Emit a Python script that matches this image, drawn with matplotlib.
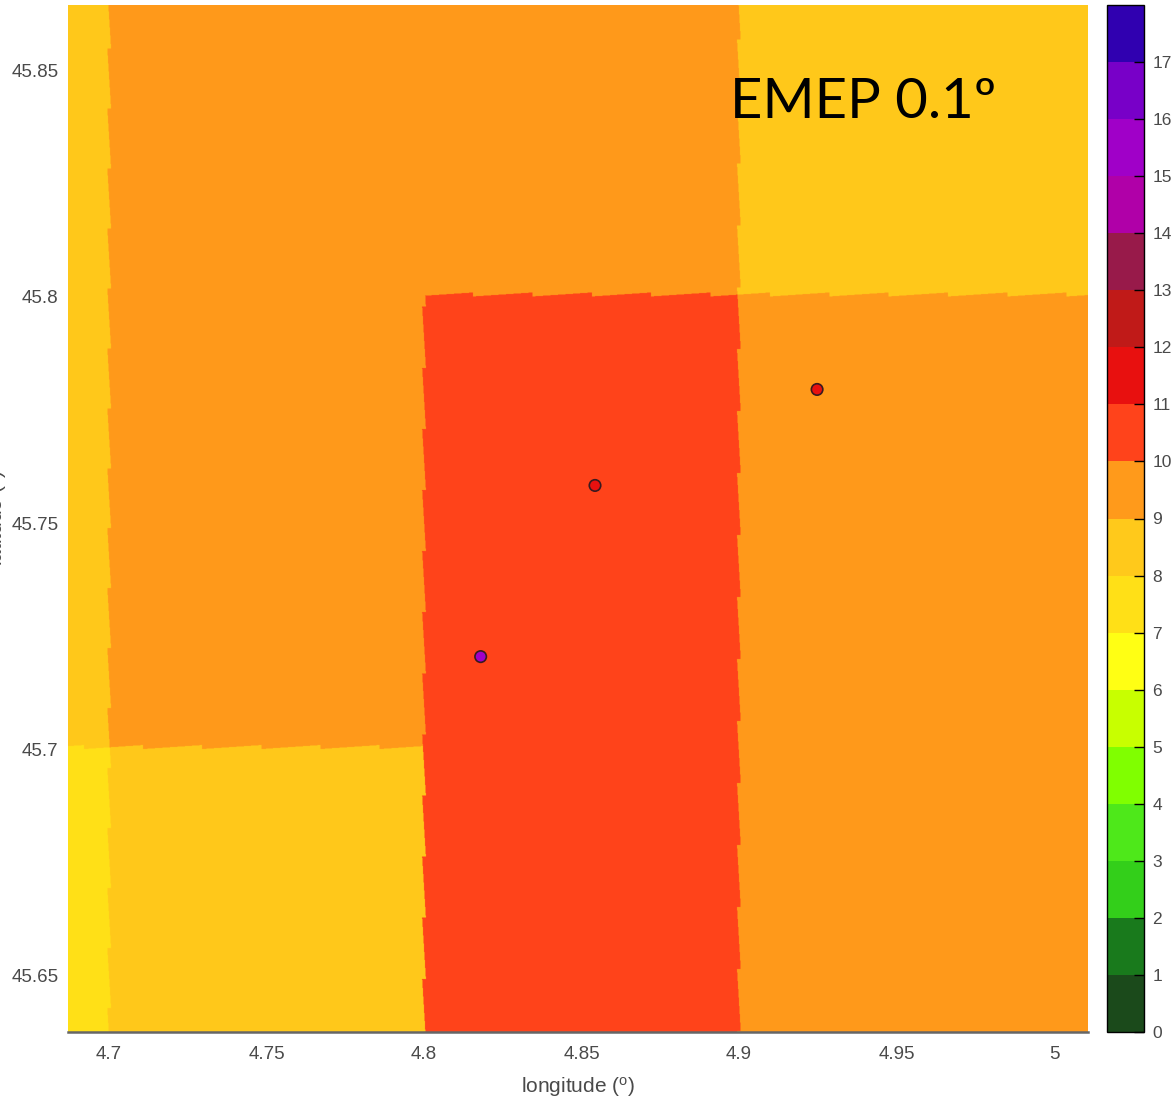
import numpy as np
import matplotlib
matplotlib.use("Agg")
import matplotlib.pyplot as plt
from matplotlib.colors import ListedColormap, BoundaryNorm
from matplotlib.cm import ScalarMappable

plt.rcParams['font.family'] = ['Liberation Sans', 'DejaVu Sans']
plt.rcParams['mathtext.default'] = 'regular'

# model cells (0.1 degree), rows south to north, columns west to east
lon_edges = [4.7, 4.8, 4.9]
lat_edges = [45.7005, 45.8005]
cell_values = [
    [7.5, 8.5, 10.5, 9.5],
    [8.5, 9.5, 10.5, 9.5],
    [8.5, 9.5, 9.5, 8.5],
]

# stations
obs_lon = [4.818, 4.8543, 4.9248]
obs_lat = [45.7205, 45.7583, 45.7795]
obs_val = [15.5, 11.5, 11.5]

levels = np.arange(0, 19)
colors = ['#1b4a1b', '#197a1c', '#33cf1a', '#4ee81a', '#80ff00', '#c8ff00',
          '#ffff14', '#ffe017', '#ffc91b', '#ff9a1b', '#ff431b', '#e8100f',
          '#c01a18', '#981a4a', '#b000a8', '#a000c8', '#7800c8', '#3000b0']

xticks = [4.7, 4.75, 4.8, 4.85, 4.9, 4.95, 5]
xticklabels = ['4.7', '4.75', '4.8', '4.85', '4.9', '4.95', '5']
yticks = [45.65, 45.7, 45.75, 45.8, 45.85]
yticklabels = ['45.65', '45.7', '45.75', '45.8', '45.85']

# saw teeth of the cell borders (regridding artefact): period, phase, half height
lon_period = [0.01325, 0.01350, 0.01369]
lon_phase = [45.6296, 45.6493, 45.6515]
lon_amp = 0.00059
lat_period = [0.01875, 0.01885]
lat_phase = [4.7108, 4.8156]
lat_amp = 0.00044

W, H = 1175, 1101
xlim = (4.6870, 5.0108)
ylim = (45.6376, 45.8644)
TEXT = '#4a4a4a'


def saw(v, phase, period):
    t = (v - phase) / period
    return 1 - 2 * (t - np.floor(t))


lon = np.linspace(xlim[0], xlim[1], 2040)
lat = np.linspace(ylim[0], ylim[1], 2054)
LON, LAT = np.meshgrid(lon, lat)

col = np.zeros(LON.shape, dtype=int)
for e, per, ph in zip(lon_edges, lon_period, lon_phase):
    col += LON > e + lon_amp * saw(LAT, ph, per)
row = np.zeros(LON.shape, dtype=int)
for e, per, ph in zip(lat_edges, lat_period, lat_phase):
    row += LAT > e - lat_amp * saw(LON, ph, per)
field = np.array(cell_values)[row, col]

cmap = ListedColormap(colors)
norm = BoundaryNorm(levels, cmap.N)

fig = plt.figure(figsize=(W / 100, H / 100), dpi=100)
ax = fig.add_axes([68 / W, 1 - 1032 / H, 1020 / W, 1027 / H])
ax.imshow(field, extent=(xlim[0], xlim[1], ylim[0], ylim[1]), origin='lower',
          aspect='auto', cmap=cmap, norm=norm, interpolation='hanning',
          interpolation_stage='rgba')
ax.scatter(obs_lon, obs_lat, c=obs_val, cmap=cmap, norm=norm, s=68,
           edgecolors='#3a1a20', linewidths=1.2, zorder=3)
ax.set_xlim(xlim)
ax.set_ylim(ylim)
ax.set_xticks(xticks)
ax.set_xticklabels(xticklabels)
ax.set_yticks(yticks)
ax.set_yticklabels(yticklabels)
ax.tick_params(length=0, labelsize=13.5, labelcolor=TEXT, pad=7)
ax.tick_params(axis='x', pad=10)
for s in ['top', 'right', 'left']:
    ax.spines[s].set_visible(False)
ax.spines['bottom'].set_color('#666666')
ax.spines['bottom'].set_linewidth(1.8)
ax.set_xlabel('longitude ($^{o}$)', fontsize=15, color=TEXT, labelpad=9)

fig.text(-3 / W, 1 - 518 / H, 'latitude ($^{o}$)', rotation=90, fontsize=15,
         color=TEXT, ha='center', va='center')

fig.text(730 / W, 1 - 118 / H, 'EMEP 0.1º', fontsize=40.5, color='black',
         family='Lato', ha='left', va='baseline')

cax = fig.add_axes([1107 / W, 1 - 1032 / H, 37 / W, 1027 / H])
cb = fig.colorbar(ScalarMappable(norm=norm, cmap=cmap), cax=cax, ticks=levels[:-1])
cb.ax.tick_params(direction='in', length=7, width=1, labelsize=12.5,
                  labelcolor=TEXT, pad=6)
cb.outline.set_linewidth(1)
cb.ax.minorticks_off()

fig.savefig('out.png', dpi=100)
